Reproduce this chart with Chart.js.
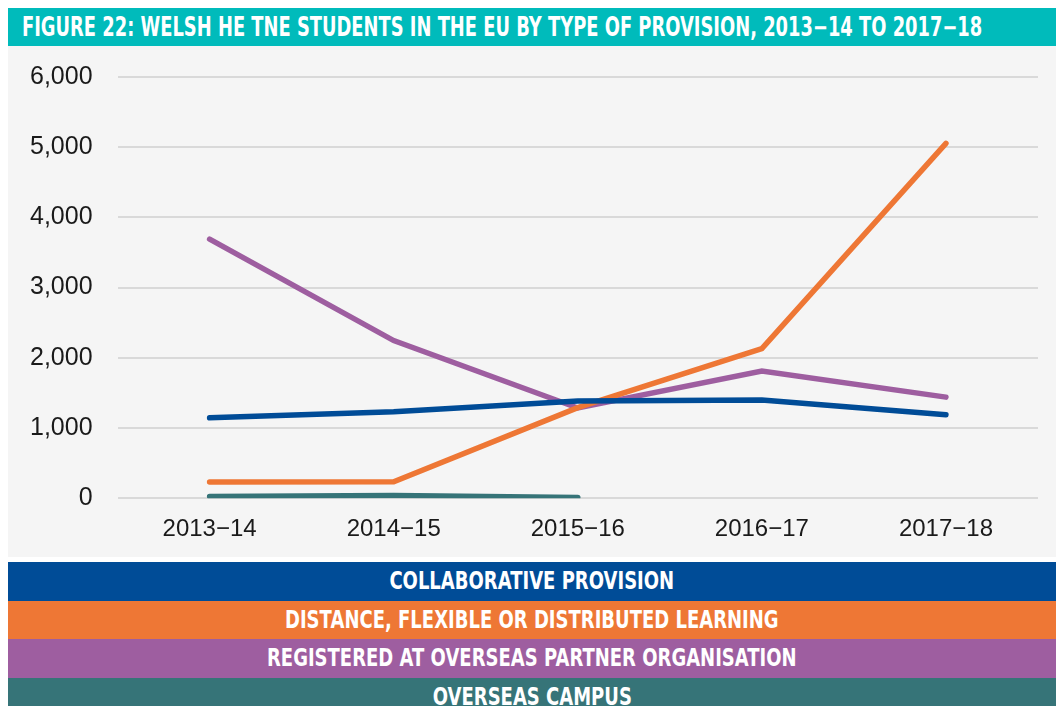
<!DOCTYPE html>
<html>
<head>
<meta charset="utf-8">
<script src="https://cdn.jsdelivr.net/npm/chart.js@4"></script>
<style>
  body { margin: 0; background: #fff; width: 1056px; height: 706px; overflow: hidden; position: relative; }
  .title { position: absolute; left: 8px; top: 8px; width: 1048px; height: 38px; background: #00bbbb; color: #fff;
    font-family: "DejaVu Sans", sans-serif; font-weight: bold; font-size: 26px; z-index: 2;
    line-height: 38px; box-sizing: border-box; white-space: nowrap; overflow: hidden; }
  .title span { display: inline-block; transform-origin: 0 50%; margin-left: 14px; }
  .plot-bg { position: absolute; left: 8px; top: 46px; width: 1048px; height: 511px; background: #f5f5f5; }
  .plot { position: absolute; left: 8px; top: 37px; width: 1048px; height: 520px; z-index: 1; }
  .legend { position: absolute; left: 8px; top: 562px; width: 1048px; }
  .legend div { height: 38.5px; line-height: 38.5px; color: #fff; text-align: center; white-space: nowrap;
    font-family: "DejaVu Sans", sans-serif; font-weight: bold; font-size: 25px; }
  .legend span { display: inline-block; transform: scaleX(0.72); }
</style>
</head>
<body>
<div class="title"><span id="titleText">FIGURE 22: WELSH HE TNE STUDENTS IN THE EU BY TYPE OF PROVISION, 2013−14 TO 2017−18</span></div>
<div class="plot-bg"></div>
<div class="plot"><canvas id="chart"></canvas></div>
<div class="legend" id="legend"></div>
<script>
// Figure 22 data
const years = ['2013−14', '2014−15', '2015−16', '2016−17', '2017−18'];
const collaborative = [1145, 1230, 1385, 1400, 1190];
const distance = [230, 235, 1290, 2130, 5055];
const registered = [3690, 2245, 1285, 1810, 1440];
const overseasCampus = [25, 40, 10, null, null];

const seriesNames = ['COLLABORATIVE PROVISION', 'DISTANCE, FLEXIBLE OR DISTRIBUTED LEARNING',
  'REGISTERED AT OVERSEAS PARTNER ORGANISATION', 'OVERSEAS CAMPUS'];
const seriesColours = ['#004c97', '#ee7735', '#9e5ea0', '#367478'];
const seriesData = [collaborative, distance, registered, overseasCampus];

// squeeze the title to the condensed width of the original
const titleText = document.getElementById('titleText');
titleText.style.transform = 'scaleX(' + (960 / titleText.offsetWidth) + ')';

// legend strips under the plot
const legendBox = document.getElementById('legend');
seriesNames.forEach((name, i) => {
  const d = document.createElement('div');
  const s = document.createElement('span');
  s.textContent = name;
  d.appendChild(s);
  d.style.background = seriesColours[i];
  legendBox.appendChild(d);
});

const chart = new Chart(document.getElementById('chart').getContext('2d'), {
  type: 'line',
  data: {
    labels: years,
    datasets: seriesData.map((vals, i) => ({
      label: seriesNames[i],
      data: vals,
      borderColor: seriesColours[i],
      backgroundColor: seriesColours[i],
      borderWidth: 5.5,
      borderCapStyle: 'round',
      borderJoinStyle: 'miter',
      pointRadius: 0,
      tension: 0,
      spanGaps: false
    }))
  },
  options: {
    responsive: true,
    maintainAspectRatio: false,
    animation: false,
    layout: { padding: { top: 3, right: 18, bottom: 4, left: -3 } },
    plugins: { legend: { display: false }, tooltip: { enabled: false } },
    scales: {
      x: {
        offset: true,
        grid: { display: false },
        border: { display: false },
        ticks: { color: '#1a1a1a', font: { family: 'Liberation Sans', size: 24 }, padding: 9 }
      },
      y: {
        min: 0, max: 6000,
        ticks: { stepSize: 1000, color: '#1a1a1a', font: { family: 'Liberation Sans', size: 25 }, padding: 25,
          callback: v => v.toLocaleString('en-US') },
        grid: { color: '#d9d9d9', lineWidth: 2, drawTicks: false },
        border: { display: false }
      }
    }
  }
});
</script>
</body>
</html>
